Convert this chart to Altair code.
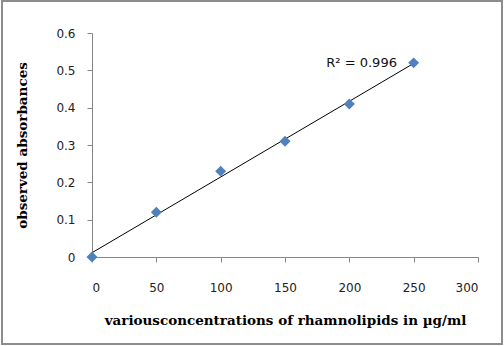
import altair as alt
import pandas as pd

concentrations = [0, 50, 100, 150, 200, 250]
absorbances = [0.0, 0.12, 0.23, 0.31, 0.41, 0.52]
r2_label = ["R\u00b2 = 0.996"]
r2_pos_x = [237]
r2_pos_y = [0.52]
x_ticks = [0, 50, 100, 150, 200, 250, 300]
y_ticks = [0, 0.1, 0.2, 0.3, 0.4, 0.5, 0.6]

df = pd.DataFrame({"x": concentrations, "y": absorbances})
lab = pd.DataFrame({"x": r2_pos_x, "y": r2_pos_y, "t": r2_label})

W, H = 386, 224
PL, PT = 92, 33

xs = alt.Scale(domain=[0, 300], nice=False)
ys = alt.Scale(domain=[0, 0.6], nice=False)

xaxis = alt.Axis(values=x_ticks, title="variousconcentrations of rhamnolipids in \u00b5g/ml",
                 labelPadding=20, titlePadding=20, grid=False, labelOverlap=False)
yaxis = alt.Axis(values=y_ticks, format="~g", title="observed absorbances",
                 labelPadding=12, titlePadding=26, grid=False, labelOverlap=False)

X = alt.X("x:Q", scale=xs, axis=xaxis)
Y = alt.Y("y:Q", scale=ys, axis=yaxis)

frame = alt.Chart(pd.DataFrame({"a": [0]})).mark_rect(
    fill=None, stroke="#8c8c8c", strokeWidth=2, clip=False
).encode(
    x=alt.value(-PL + 2), x2=alt.value(504 - PL - 2),
    y=alt.value(-PT + 1), y2=alt.value(346 - PT - 2),
)

trend = alt.Chart(df).transform_regression("x", "y", extent=[0, 250]).mark_line(
    color="#000000", strokeWidth=1
).encode(x=X, y=Y)

pts = alt.Chart(df).mark_point(shape="diamond", filled=True, size=120, color="#4f81bd", opacity=1).encode(
    x=X, y=Y
)

txt = alt.Chart(lab).mark_text(align="right", baseline="middle", fontSize=13, font="DejaVu Sans",
                               color="#111111").encode(
    x=X, y=Y, text="t:N"
)

chart = alt.layer(frame, trend, pts, txt).properties(
    width=W, height=H,
    background="white",
    autosize=alt.AutoSizeParams(type="none"),
    padding={"left": PL, "top": PT, "right": 504 - PL - W, "bottom": 346 - PT - H},
).configure_view(stroke=None).configure_axis(
    domainColor="#868686", tickColor="#868686", tickSize=5,
    labelFont="DejaVu Sans", labelFontSize=12, labelColor="#222222",
    titleFont="DejaVu Serif", titleFontSize=13.5, titleFontWeight="bold", titleColor="#000000",
)

chart.save("out.html", embed_options={"renderer": "svg", "actions": False})
